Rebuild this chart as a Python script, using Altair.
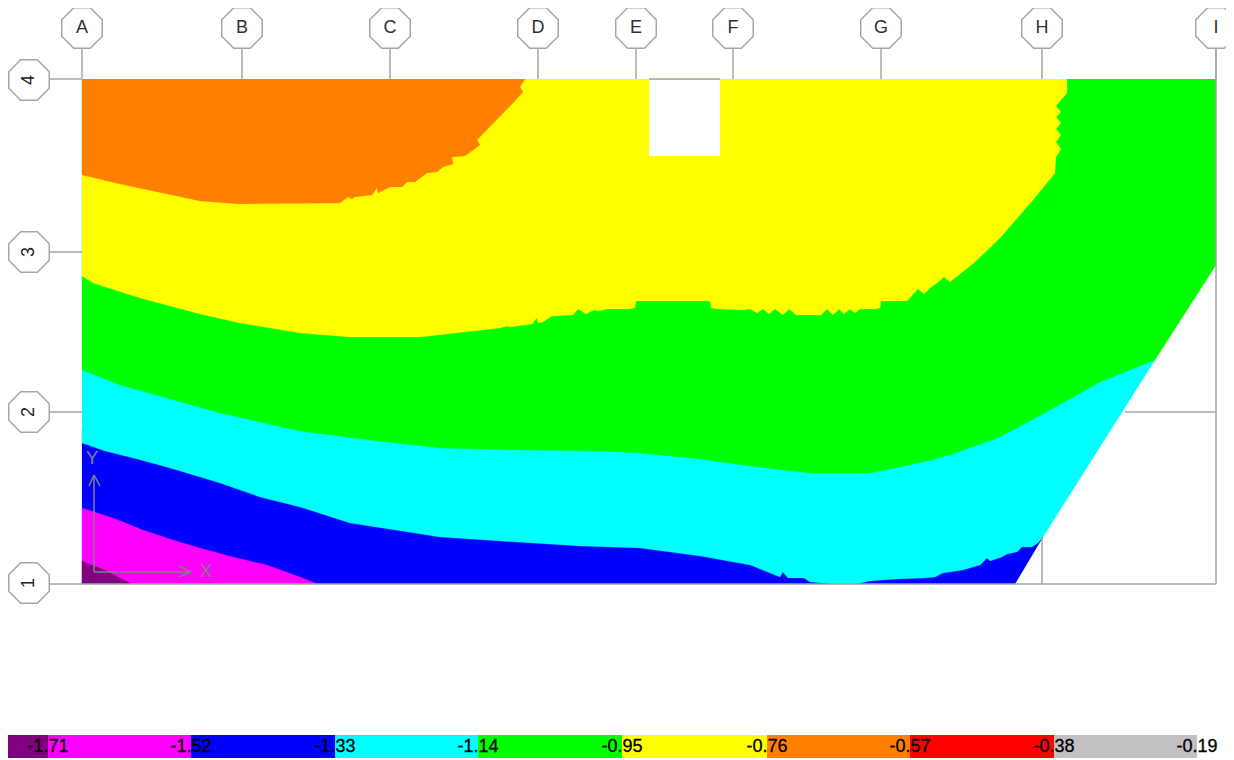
import altair as alt
import pandas as pd

# Contour boundaries (x, y in drawing units)
blue_outline = [(82,430),(82,584),(1015,584),(1043,537),(1035,530),(800,540),(300,480)]
magenta_edge = [(82,508),(113,518),(143,530),(173,540),(200,548),(233,557),(267,565),(300,577),(318,584)]
purple_edge = [(82,561),(107,571),(132,584)]
cyan_edge = [(82,443),(105,451),(137,459),(170,468),(220,483),(260,497),(300,507),(350,523),(440,537),(500,541),
             (580,546),(640,548),(700,556),(750,565),(780,577),(783,572),(788,578),(804,578),(810,582),(833,584),
             (856,584),(870,581),(897,579),(925,578),(935,577),(943,573),(963,570),(980,565),(987,558),(990,561),
             (1002,557),(1007,554),(1017,552),(1022,547),(1032,547),(1038,543),(1043,537),(1155,360),(1140,340)]
green_edge = [(82,370),(120,385),(170,399),(220,413),(300,431),(370,440),(440,448),(520,450),(600,451),(640,453),
              (700,459),(750,466),(810,473),(870,473),(910,465),(950,455),(1000,437),(1050,410),(1100,382),
              (1155,360),(1216,265)]
yellow_edge = [(82,276),(93,283),(140,298),(200,314),(240,323),(300,333),(350,337),(420,337),(500,328),(507,326),
               (510,327),(517,326),(532,324),(537,318),(538,323),(543,322),(552,316),(573,315),(578,309),(586,314),
               (594,310),(599,311),(607,309),(628,309),(635,308),(636,301),(710,301),(711,308),(717,309),(743,310),
               (750,309),(757,313),(763,309),(769,314),(775,309),(783,315),(789,309),(796,315),(821,315),(827,309),
               (833,315),(839,309),(844,314),(850,309),(855,313),(860,309),(875,309),(880,308),(881,301),(907,301),
               (918,289),(924,294),(930,288),(937,283),(944,277),(950,282),(975,262),(1000,238),(1033,200),(1055,173),
               (1056,157),(1061,149),(1056,142),(1061,135),(1056,129),(1061,123),(1056,117),(1061,112),(1056,106),
               (1067,93),(1067,79)]
orange_edge = [(82,175),(120,184),(200,201),(240,204),(340,203),(348,197),(352,199),(355,197),(372,195),(377,188),
               (378,193),(390,187),(402,187),(407,182),(415,182),(427,173),(437,172),(443,167),(453,164),(452,157),
               (465,156),(480,145),(477,140),(513,103),(523,92),(520,87),(525,79)]

TOP = 79
BOTTOM = 584

# Grid
col_names = ["A","B","C","D","E","F","G","H","I"]
col_x = [82,242,390,538,636,733,881,1042,1216]
row_names = ["4","3","2","1"]
row_y = [79,252,412,584]

# Legend
legend_edges = [8,48,191,335,478,622,767,910,1054,1197]
legend_colors = ["#800080","#ff00ff","#0000ff","#00ffff","#00ff00","#ffff00","#ff8000","#ff0000","#c3c0c3"]
legend_labels = ["-1.71","-1.52","-1.33","-1.14","-0.95","-0.76","-0.57","-0.38","-0.19"]

# Global axes glyph
axis_segments = [(94,572,94,475),(94,475,89,486),(94,475,100,486),(94,572,191,572),(191,572,179,566),(191,572,179,577)]

LINE = "#a6a6a6"
xs = alt.Scale(domain=[8,1226], nice=False, zero=False)
ys = alt.Scale(domain=[758,8], nice=False, zero=False)
X = lambda f: alt.X(f, type="quantitative", scale=xs, axis=None)
Y = lambda f: alt.Y(f, type="quantitative", scale=ys, axis=None)

def band(edge, colour, base=None):
    # closed region: the contour edge plus the side it is painted towards
    pts = list(edge)
    if base is not None:
        pts = [(edge[0][0], base)] + pts
        if pts[-1][1] != base:
            pts.append((edge[-1][0], base))
    d = pd.DataFrame({"px":[p[0] for p in pts], "py":[p[1] for p in pts], "idx":list(range(len(pts)))})
    return alt.Chart(d).mark_line(filled=True, fill=colour, stroke=colour, strokeWidth=0.2, interpolate="linear").encode(
        x=X("px"), y=Y("py"), order=alt.Order("idx", type="quantitative"))

def rules(segs, colour, width):
    d = pd.DataFrame(segs, columns=["a","b","c","d"])
    return alt.Chart(d).mark_rule(color=colour, strokeWidth=width).encode(
        x=X("a"), y=Y("b"), x2="c:Q", y2="d:Q")

grid = []
for x in col_x:
    grid.append((x,48,x,TOP))
for y in row_y[:3]:
    grid.append((49,y,82,y))
grid.append((1125,412,1216,412))
grid_under = rules(grid, LINE, 1.5)
over = rules([(649,TOP,720,TOP),(28,BOTTOM,1216,BOTTOM),(1216,48,1216,BOTTOM),(1042,537,1042,BOTTOM)], LINE, 1.5)

hole = alt.Chart(pd.DataFrame({"a":[649],"b":[80],"c":[720],"d":[156]})).mark_rect(color="white").encode(
    x=X("a"), y=Y("b"), x2="c:Q", y2="d:Q")

octagon = "M-0.41,-1L0.41,-1L1,-0.41L1,0.41L0.41,1L-0.41,1L-1,0.41L-1,-0.41Z"
col_df = pd.DataFrame({"x":col_x,"y":[28]*len(col_x),"t":col_names})
row_df = pd.DataFrame({"x":[29]*len(row_y),"y":[80,252,412,583],"t":row_names})
bub_df = pd.concat([col_df,row_df])
bubbles = alt.Chart(bub_df).mark_point(shape=octagon, size=1640, filled=True, fill="white", stroke=LINE,
                                       strokeWidth=1.5, opacity=1).encode(x=X("x"), y=Y("y"))
FONT = "Liberation Sans Narrow, Liberation Sans"
col_txt = alt.Chart(col_df).mark_text(font=FONT, fontSize=18, color="#303030", baseline="middle").encode(
    x=X("x"), y=Y("y"), text="t:N")
row_txt = alt.Chart(row_df).mark_text(font=FONT, fontSize=18, color="#202020", angle=270, baseline="middle").encode(
    x=X("x"), y=Y("y"), text="t:N")

axis_glyph = rules(axis_segments, "#808080", 1.5)
xy_txt = alt.Chart(pd.DataFrame({"x":[92,206],"y":[458,571],"t":["Y","X"]})).mark_text(
    font=FONT, fontSize=19, color="#808080", baseline="middle").encode(x=X("x"), y=Y("y"), text="t:N")

leg_df = pd.DataFrame({"a":legend_edges[:-1],"c":legend_edges[1:],"b":[735]*9,"d":[758]*9,"col":legend_colors})
legend = alt.Chart(leg_df).mark_rect().encode(
    x=X("a"), y=Y("b"), x2="c:Q", y2="d:Q", color=alt.Color("col:N", scale=None))
leg_txt_df = pd.DataFrame({"x":legend_edges[1:],"y":[747]*9,"t":legend_labels})
leg_txt = alt.Chart(leg_txt_df).mark_text(font="Liberation Sans", fontSize=18, color="black",
                                          baseline="middle", stroke="black", strokeWidth=0.3).encode(
    x=X("x"), y=Y("y"), text="t:N")

chart = alt.layer(
    grid_under,
    band(blue_outline, "#0000ff"),
    band(magenta_edge, "#ff00ff", BOTTOM),
    band(purple_edge, "#800080", BOTTOM),
    band(cyan_edge, "#00ffff", TOP),
    band(green_edge, "#00ff00", TOP),
    band(yellow_edge, "#ffff00", TOP),
    band(orange_edge, "#ff8000", TOP),
    hole, over, axis_glyph, xy_txt, bubbles, col_txt, row_txt, legend, leg_txt,
).resolve_scale(x="shared", y="shared").properties(
    width=1218, height=750, padding=0, autosize=alt.AutoSizeParams(type="none"), background="white"
).configure_view(stroke=None)

chart.save("out.html", embed_options={"renderer": "svg", "actions": False})
